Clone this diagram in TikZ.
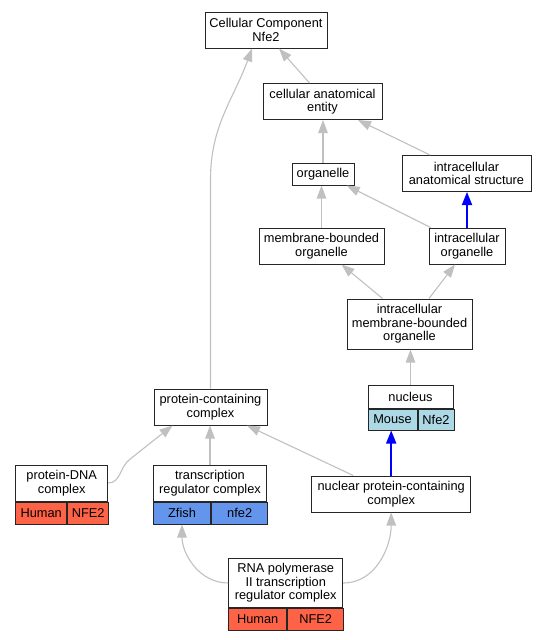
\documentclass[tikz,border=0pt]{standalone}
\usepackage{fontspec}
\setmainfont{Liberation Sans}
\usetikzlibrary{arrows.meta, positioning}

\definecolor{human}{HTML}{FF6347}
\definecolor{zfish}{HTML}{6495ED}
\definecolor{mouse}{HTML}{ADD8E6}
\definecolor{isa}{HTML}{C0C0C0}
\definecolor{partof}{HTML}{0000FF}

\begin{document}
\begin{tikzpicture}[x=1pt, y=1pt,
    term/.style={draw=black!85, line width=1pt, fill=white, inner sep=0pt, align=center,
        font=\fontsize{12.8}{13.4}\selectfont},
    cell/.style={term, minimum height=22pt, anchor=north west},
    isedge/.style={draw=isa, line width=1.1pt, -{Triangle[length=13pt, width=9.5pt]}},
    partedge/.style={draw=partof, line width=1.8pt, -{Triangle[length=13pt, width=10pt]}}]
    \useasboundingbox (0,0) rectangle (547,-640);

    % Terms
    \node[term, minimum width=122pt, minimum height=36pt] (ccn) at (266,-30) {Cellular Component\\Nfe2};
    \node[term, minimum width=119pt, minimum height=36pt] (cae) at (322.5,-101.5) {cellular anatomical\\entity};
    \node[term, minimum width=62pt, minimum height=22pt] (org) at (323,-174) {organelle};
    \node[term, minimum width=129pt, minimum height=36pt] (ias) at (466.5,-173.5) {intracellular\\anatomical structure};
    \node[term, minimum width=125pt, minimum height=36pt] (mbo) at (321.5,-246) {membrane-bounded\\organelle};
    \node[term, minimum width=76pt, minimum height=36pt] (io) at (467,-246) {intracellular\\organelle};
    \node[term, minimum width=125pt, minimum height=50pt] (imbo) at (409.5,-324) {intracellular\\membrane-bounded\\organelle};
    \node[term, minimum width=113pt, minimum height=36pt] (pcc) at (210.5,-407) {protein-containing\\complex};
    \node[term, minimum width=159pt, minimum height=36pt] (npcc) at (391.2,-494) {nuclear protein-containing\\complex};

    % Annotated terms
    \node[term, minimum width=85pt, minimum height=23pt] (nucleus) at (410.5,-396.5) {nucleus};
    \node[cell, fill=mouse, minimum width=49pt, minimum height=21pt] (nucleus-sp) at (nucleus.south west) {Mouse};
    \node[cell, fill=mouse, minimum width=36pt, minimum height=21pt] (nucleus-gene) at (nucleus-sp.north east) {Nfe2};

    \node[term, minimum width=92pt, minimum height=36pt] (pdna) at (61.7,-483) {protein-DNA\\complex};
    \node[cell, fill=human, minimum width=51pt] (pdna-sp) at (pdna.south west) {Human};
    \node[cell, fill=human, minimum width=41pt] (pdna-gene) at (pdna-sp.north east) {NFE2};

    \node[term, minimum width=113.4pt, minimum height=36pt] (trc) at (210,-483) {transcription\\regulator complex};
    \node[cell, fill=zfish, minimum width=57.4pt] (trc-sp) at (trc.south west) {Zfish};
    \node[cell, fill=zfish, minimum width=56pt] (trc-gene) at (trc-sp.north east) {nfe2};

    \node[term, minimum width=114pt, minimum height=49.4pt] (rna) at (285.7,-583) {RNA polymerase\\II transcription\\regulator complex};
    \node[cell, fill=human, minimum width=58pt, minimum height=21.6pt] (rna-sp) at (rna.south west) {Human};
    \node[cell, fill=human, minimum width=56pt, minimum height=21.6pt] (rna-gene) at (rna-sp.north east) {NFE2};

    % is_a edges
    \draw[isedge] ([xshift=-13pt]cae.north) -- ([xshift=13pt]ccn.south);
    \draw[isedge] (pcc.north) -- ++(0,209) to[out=90, in=250] ([xshift=-14pt]ccn.south);
    \draw[isedge] (org.north) -- (org.north |- cae.south);
    \draw[isedge] ([xshift=-36.5pt]ias.north) -- ([xshift=35.5pt]cae.south);
    \draw[isedge] (mbo.north) -- (mbo.north |- org.south);
    \draw[isedge] ([xshift=-36.3pt]io.north) -- ([xshift=23.7pt]org.south);
    \draw[isedge] ([xshift=-27pt]imbo.north) -- ([xshift=20pt]mbo.south);
    \draw[isedge] ([xshift=19.5pt]imbo.north) -- ([xshift=-12pt]io.south);
    \draw[isedge] (nucleus.north) -- (nucleus.north |- imbo.south);
    \draw[isedge] (pdna.east) to[out=0, in=215] ++(22,24) -- ([xshift=-38pt]pcc.south);
    \draw[isedge] (trc.north) -- (trc.north |- pcc.south);
    \draw[isedge] ([xshift=-38pt]npcc.north) -- ([xshift=36.5pt]pcc.south);
    \draw[isedge] (rna.west) to[out=180, in=270] (trc-sp.south);
    \draw[isedge] (rna.east) to[out=0, in=270] (npcc.south);

    % part_of edges
    \draw[partedge] (io.north) -- (io.north |- ias.south);
    \draw[partedge] (npcc.north) -- (npcc.north |- nucleus-sp.south);
\end{tikzpicture}
\end{document}
